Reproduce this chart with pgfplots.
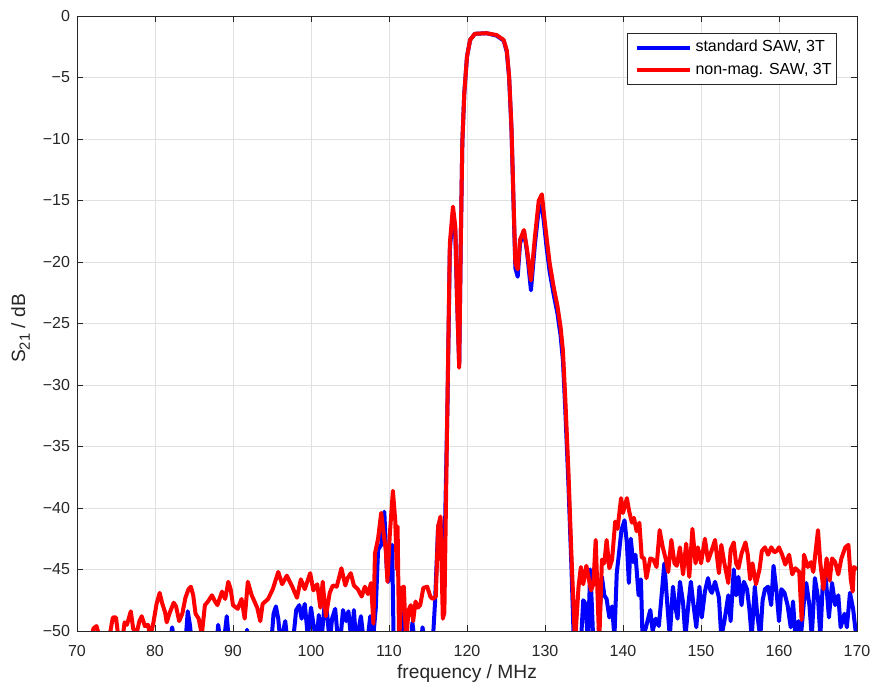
\documentclass[border=0pt]{standalone}
\usepackage{pgfplots}
\pgfplotsset{compat=1.18}
\usepackage{fontspec}
\setmainfont{Liberation Sans}

\definecolor{axisgray}{gray}{0.15}
\definecolor{gridgray}{gray}{0.88}

\pgfplotsset{
  longline legend/.style={
    legend image code/.code={\path (0pt,0pt); \draw[##1] (3pt,0pt) -- (29.5pt,0pt);}
  }
}

% measured transmission S21 of the two SAW devices at 3 T
\pgfplotstableread{
f      s
70.0   -52
81.9   -51
82.2   -49.7
82.5   -51
83.9   -51
84.2   -48.4
84.5   -49.6
84.7   -51
87.9   -51
88.1   -49.5
88.4   -51
88.9   -50.5
89.2   -48.8
89.5   -51
91.6   -51
91.8   -49.9
92.0   -51
94.9   -51
95.2   -48.6
95.5   -48.0
95.8   -49.0
96.1   -51
96.7   -49.2
97.0   -51
97.8   -50.2
98.1   -48.3
98.5   -47.9
98.8   -49.0
99.2   -47.8
99.6   -50.5
100.0  -48.1
100.3  -49.4
100.7  -51
101.0  -48.7
101.3  -51
101.8  -47.5
102.1  -48.8
102.4  -51
102.7  -49.0
103.1  -48.2
103.5  -51
103.8  -50.5
104.1  -48.3
104.5  -49.2
104.8  -48.4
105.2  -51
105.5  -48.3
105.8  -51
106.4  -48.8
106.8  -51
107.2  -51
107.6  -48.8
107.9  -51
108.3  -48.2
108.6  -43.4
109.0  -43.0
109.4  -40.3
109.7  -44.8
109.9  -46.0
110.2  -43.5
110.4  -43.0
110.6  -51
111.4  -51
111.6  -48.5
111.9  -51
112.8  -51
113.0  -49.3
113.3  -51
114.1  -51
114.3  -49.7
114.6  -51
115.6  -51
115.9  -47.7
116.3  -41.5
116.6  -41.0
116.9  -46.0
117.2  -41.0
117.5  -31.5
117.8  -19.0
118.2  -16.0
118.5  -17.5
118.7  -22.5
119.0  -28.4
119.2  -18.5
119.4  -10.3
119.65 -6.3
120.0  -3.3
120.4  -1.95
121.0  -1.45
122.5  -1.4
123.8  -1.6
124.7  -2.0
125.1  -2.9
125.4  -5.0
125.7  -9.2
126.0  -16.0
126.2  -20.5
126.5  -21.2
126.8  -18.5
127.3  -17.5
127.7  -19.2
128.2  -22.3
128.7  -18.6
129.2  -15.7
129.6  -15.4
129.9  -17.0
130.2  -18.8
130.6  -20.8
131.1  -22.6
131.6  -24.2
132.0  -26.0
132.3  -28.0
132.6  -32.0
133.0  -38.0
133.4  -45.0
133.7  -51
134.6  -51
134.9  -47.5
135.2  -47.8
135.5  -51
135.8  -45.0
136.0  -47.8
136.2  -51
136.8  -51
137.3  -45.6
137.6  -47.1
137.9  -47.4
138.25 -48.9
138.6  -48.0
138.9  -50.5
139.2  -45.3
139.5  -43.6
139.8  -41.8
140.2  -41.0
140.5  -42.9
140.75 -46.1
141.0  -42.5
141.3  -44.4
141.6  -43.8
142.0  -47.1
142.3  -45.8
142.5  -50.5
142.9  -49.8
143.5  -48.3
143.8  -50.0
144.2  -49.0
144.6  -49.6
144.95 -47.1
145.3  -44.5
145.7  -48.0
146.0  -50.5
146.4  -46.4
146.7  -48.0
147.0  -49.0
147.3  -46.0
147.7  -47.7
148.0  -50.5
148.4  -47.7
148.7  -46.0
149.0  -47.7
149.4  -49.7
149.8  -46.4
150.1  -48.9
150.5  -46.8
150.9  -45.7
151.2  -46.7
151.4  -46.9
151.8  -46.0
152.3  -47.3
152.6  -50.5
153.0  -49.2
153.5  -47.1
153.8  -49.2
154.2  -45.0
154.5  -47.1
154.8  -45.6
155.2  -47.9
155.5  -46.0
155.9  -46.6
156.2  -48.2
156.5  -50.5
156.9  -46.4
157.2  -48.6
157.6  -50.5
157.9  -47.5
158.2  -46.6
158.6  -46.4
159.0  -47.9
159.3  -44.7
159.7  -46.9
160.0  -49.2
160.3  -46.6
160.7  -46.9
161.1  -47.9
161.5  -49.7
161.8  -47.6
162.1  -50.5
162.5  -49.2
162.8  -50.5
163.2  -47.6
163.5  -46.1
163.9  -47.9
164.2  -50.5
164.6  -45.7
165.0  -47.3
165.3  -50.5
165.6  -46.3
166.0  -45.7
166.4  -48.9
166.8  -46.1
167.2  -47.9
167.6  -47.1
167.9  -49.7
168.4  -48.6
168.7  -49.7
169.1  -46.9
169.5  -48.2
170.0  -51
}\standardsaw

\pgfplotstableread{
f      s
70.0   -52
71.8   -51
72.1   -49.8
72.5   -49.6
72.8   -50.3
73.2   -51
73.8   -51
74.2   -50.3
74.6   -48.9
75.0   -48.9
75.3   -50.5
75.8   -50.8
76.1   -49.3
76.4   -49.5
76.9   -48.4
77.2   -49.8
77.6   -50.3
78.0   -49.2
78.3   -48.8
78.7   -49.6
79.1   -49.5
79.4   -50.5
79.8   -49.3
80.2   -47.8
80.6   -46.9
80.9   -47.7
81.3   -48.5
81.5   -49.3
81.9   -48.5
82.4   -47.7
82.7   -48.0
83.1   -49.2
83.5   -48.6
83.9   -47.3
84.3   -46.6
84.6   -46.4
84.9   -47.1
85.2   -48.6
85.6   -49.0
86.0   -50.3
86.4   -47.9
86.8   -47.6
87.3   -47.1
87.7   -47.6
88.0   -47.9
88.6   -46.8
89.0   -47.4
89.4   -46.0
89.7   -46.6
90.0   -47.9
90.6   -48.2
91.1   -47.4
91.5   -49.0
91.9   -46.0
92.4   -47.1
93.1   -48.1
93.5   -49.2
93.8   -47.8
94.5   -47.4
95.1   -46.6
95.8   -45.2
96.3   -46.2
96.9   -45.5
97.6   -46.4
98.2   -47.3
98.7   -45.8
99.2   -46.6
99.9   -45.3
100.3  -46.7
100.8  -46.2
101.2  -48.1
101.5  -46.0
101.9  -48.8
102.4  -46.9
102.8  -46.3
103.3  -46.4
103.9  -44.9
104.4  -46.3
104.7  -45.7
105.1  -45.3
105.5  -46.3
106.0  -46.6
106.5  -47.2
106.9  -46.4
107.3  -47.0
107.7  -46.1
108.0  -49.4
108.2  -43.7
108.6  -42.5
109.0  -40.4
109.3  -42.0
109.6  -43.5
109.8  -46.0
110.1  -42.2
110.5  -38.6
110.8  -41.0
111.0  -45.0
111.1  -41.5
111.3  -51
111.6  -46.5
111.9  -46.4
112.2  -51
112.5  -48.3
112.8  -47.9
113.1  -49.2
113.4  -47.6
113.7  -48.1
114.0  -47.9
114.4  -46.5
114.9  -46.4
115.3  -47.2
115.6  -47.4
116.0  -47.2
116.3  -41.5
116.6  -40.7
116.9  -49.0
117.1  -48.5
117.5  -31.1
117.8  -18.5
118.2  -15.5
118.5  -17.1
118.7  -22.5
119.0  -28.6
119.2  -18.5
119.4  -10.3
119.65 -6.3
120.0  -3.3
120.4  -1.95
121.0  -1.45
122.5  -1.4
123.8  -1.55
124.7  -1.95
125.1  -2.8
125.4  -4.9
125.7  -9.0
126.0  -15.8
126.2  -20.1
126.5  -20.6
126.8  -18.2
127.3  -17.4
127.7  -19.0
128.2  -21.5
128.7  -18.0
129.2  -15.0
129.6  -14.5
129.9  -16.3
130.2  -18.0
130.6  -20.1
131.1  -22.0
131.6  -23.6
132.0  -25.3
132.3  -27.2
132.6  -31.1
133.0  -37.0
133.4  -44.0
133.85 -51
134.3  -46.4
134.6  -44.8
134.9  -46.2
135.3  -44.7
135.6  -45.7
135.9  -46.7
136.2  -46.2
136.5  -42.6
136.75 -47.3
136.95 -51
137.3  -44.2
137.6  -44.5
137.9  -42.6
138.25 -44.9
138.6  -44.2
139.0  -41.1
139.3  -41.7
139.75 -39.2
140.0  -40.4
140.5  -39.2
140.8  -40.3
141.15 -41.2
141.4  -40.8
141.75 -41.9
142.1  -41.2
142.4  -44.0
142.7  -44.1
143.0  -45.7
143.5  -44.1
143.9  -44.2
144.3  -44.8
144.7  -41.8
145.1  -43.2
145.5  -44.2
145.8  -45.2
146.2  -42.6
146.6  -44.5
146.9  -44.7
147.3  -43.2
147.7  -45.4
148.1  -42.9
148.5  -45.6
148.9  -41.7
149.3  -44.5
149.6  -43.2
150.0  -44.5
150.5  -42.5
150.9  -44.3
151.4  -43.4
151.8  -42.6
152.3  -45.3
152.6  -43.0
153.0  -44.5
153.5  -46.1
153.8  -43.4
154.2  -42.8
154.5  -44.5
154.8  -44.9
155.2  -43.7
155.7  -42.8
156.0  -43.8
156.3  -45.8
156.6  -44.5
157.05 -46.2
157.5  -45.0
157.8  -43.5
158.2  -43.2
158.6  -43.8
159.0  -43.2
159.4  -43.6
159.7  -43.5
160.0  -43.2
160.4  -43.8
160.8  -44.6
161.3  -43.8
161.7  -45.4
162.1  -44.9
162.6  -45.2
162.9  -49.1
163.2  -43.8
163.7  -44.8
164.1  -44.4
164.4  -45.2
165.0  -41.8
165.3  -44.5
165.7  -46.6
166.1  -44.1
166.5  -45.9
166.8  -44.1
167.2  -44.4
167.6  -45.4
168.0  -44.1
168.5  -43.2
168.9  -43.0
169.2  -45.8
169.45 -46.8
169.6  -44.8
170.0  -45.0
}\nonmagsaw

\begin{document}
\begin{tikzpicture}
\begin{axis}[
  scale only axis,
  width=390pt, height=307.5pt,
  xmin=70, xmax=170, ymin=-50, ymax=0,
  xtick={70,80,...,170},
  ytick={-50,-45,...,0},
  yticklabels={−50,−45,−40,−35,−30,−25,−20,−15,−10,−5,0},
  grid=major,
  major grid style={gridgray, line width=0.4pt},
  axis line style={axisgray, line width=0.4pt},
  tick style={axisgray, line width=0.4pt},
  tick align=inside,
  major tick length=3pt,
  /pgf/number format/assume math mode=true,
  ticklabel style={font=\fontsize{8}{9.5}\selectfont, text=axisgray},
  xticklabel style={yshift=-3.5pt},
  xlabel={frequency / MHz},
  ylabel={S\raisebox{-0.45ex}{\fontsize{7.4}{8}\selectfont 21} / dB},
  label style={font=\fontsize{9.6}{11}\selectfont, text=axisgray},
  xlabel style={at={(axis description cs:0.5,-0.0699)}, anchor=center},
  ylabel style={at={(axis description cs:-0.0724,0.4919)}, anchor=center},
  longline legend,
  legend cell align=left,
  legend style={
    at={(1,1)}, anchor=north east,
    xshift=-10pt, yshift=-8.5pt,
    draw=axisgray, line width=0.4pt,
    font=\fontsize{8}{9.5}\selectfont, text=black,
    inner xsep=0.5pt, inner ysep=1.5pt,
    row sep=0pt,
  },
]
\addplot[blue, line width=2pt, line join=round] table[x=f, y=s] {\standardsaw};
\addlegendentry{standard SAW, 3T}
\addplot[red, line width=2pt, line join=round] table[x=f, y=s] {\nonmagsaw};
\addlegendentry{non-mag. SAW, 3T}
\end{axis}
\pgfresetboundingbox
\path ([xshift=-38.5pt, yshift=-27.5pt]current axis.south west)
  rectangle ([xshift=8pt, yshift=8pt]current axis.north east);
\end{tikzpicture}
\end{document}
